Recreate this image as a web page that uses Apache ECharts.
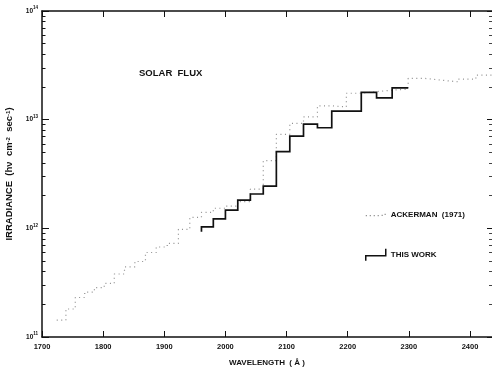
<!DOCTYPE html>
<html>
<head>
<meta charset="utf-8">
<script src="https://cdn.jsdelivr.net/npm/echarts@6/dist/echarts.min.js"></script>
<style>
  html, body { margin: 0; padding: 0; background: #fff; }
  #chart { width: 492px; height: 370px; }
</style>
</head>
<body>
<div id="chart"></div>
<script>
// Ackerman (1971) irradiance, 500 cm-1 intervals (edges in Angstrom)
const ackermanEdges = [
  1724.1, 1739.1, 1754.4, 1769.9, 1785.7, 1801.8, 1818.2, 1834.9, 1851.9,
  1869.2, 1886.8, 1904.8, 1923.1, 1941.7, 1960.8, 1980.2, 2000.0, 2020.2,
  2040.8, 2061.9, 2083.3, 2105.3, 2127.7, 2150.5, 2173.9, 2197.8, 2222.2,
  2247.2, 2272.7, 2298.9, 2325.6, 2352.9, 2381.0, 2409.6, 2439.0
];
const ackermanFlux = [
  1.43e11, 1.81e11, 2.31e11, 2.59e11, 2.85e11, 3.12e11, 3.80e11, 4.41e11,
  4.95e11, 5.99e11, 6.73e11, 7.28e11, 9.79e11, 1.26e12, 1.40e12, 1.53e12,
  1.60e12, 1.76e12, 2.30e12, 4.19e12, 7.33e12, 9.25e12, 1.06e13, 1.34e13,
  1.31e13, 1.75e13, 1.81e13, 1.87e13, 1.91e13, 2.40e13, 2.31e13, 2.23e13,
  2.36e13, 2.57e13
];

// this work
const thisWorkEdges = [
  1960.8, 1980.2, 2000.0, 2020.2, 2040.8, 2061.9, 2083.3, 2105.3, 2127.7,
  2150.5, 2173.9, 2222.2, 2247.2, 2272.7, 2298.9
];
const thisWorkFlux = [
  1.03e12, 1.22e12, 1.47e12, 1.82e12, 2.07e12, 2.45e12, 5.07e12, 7.06e12,
  9.10e12, 8.43e12, 1.20e13, 1.78e13, 1.59e13, 1.96e13
];
const thisWorkStartTick = 9.3e11;

const yDecades = [1e11, 1e12, 1e13, 1e14];
const yMinorTicks = [];
yDecades.slice(0, 3).forEach(d => {
  for (let m = 2; m <= 9; m++) yMinorTicks.push(m * d);
});

// turn interval edges + levels into histogram corner points
function stepPoints(edges, vals) {
  const pts = [];
  vals.forEach((v, i) => {
    pts.push([edges[i], v], [edges[i + 1], v]);
  });
  return pts;
}

const FONT = 'Liberation Sans';
const INK = '#111';
const DOTS = '#8e8e8e';

const chart = echarts.init(document.getElementById('chart'));

const logAxisBase = {
  type: 'log',
  logBase: 10,
  min: 1e11,
  max: 1e14,
  splitLine: { show: false },
  minorTick: { show: false },
  axisLine: { show: false }
};

chart.setOption({
  animation: false,
  backgroundColor: '#fff',
  grid: { left: 42, right: 0, top: 11, bottom: 33, containLabel: false, outerBoundsMode: 'none' },
  title: {
    text: 'SOLAR  FLUX',
    left: 139,
    top: 68,
    padding: 0,
    textStyle: { fontSize: 9.5, fontWeight: 'bold', fontFamily: FONT, color: INK }
  },
  legend: {
    orient: 'vertical',
    left: 365,
    top: 211,
    padding: 0,
    itemWidth: 20,
    itemHeight: 12,
    itemGap: 29,
    selectedMode: false,
    textStyle: { fontSize: 8, fontWeight: 'bold', fontFamily: FONT, color: INK },
    data: [
      {
        name: 'ACKERMAN  (1971)',
        icon: 'path://M0,3h1.2v1.2h-1.2z M4,3h1.2v1.2h-1.2z M8,3h1.2v1.2h-1.2z M12,3h1.2v1.2h-1.2z M16,2.6h1.2v1.2h-1.2z M19,1.6h1.2v1.2h-1.2z',
        itemStyle: { color: DOTS, borderWidth: 0 }
      },
      {
        name: 'THIS WORK',
        icon: 'path://M0,12L0,7L20,7L20,0',
        itemStyle: { color: 'rgba(0,0,0,0)', borderColor: INK, borderWidth: 1.5 }
      }
    ]
  },
  xAxis: [
    {
      type: 'value',
      min: 1700,
      max: 2436,
      interval: 100,
      position: 'bottom',
      name: 'WAVELENGTH  ( Å )',
      nameLocation: 'middle',
      nameGap: 22,
      nameTextStyle: { fontSize: 8, fontWeight: 'bold', fontFamily: FONT, color: INK },
      axisLine: { show: true, lineStyle: { color: INK, width: 1.5 } },
      axisTick: { inside: true, length: 6, lineStyle: { color: INK, width: 1 } },
      axisLabel: {
        margin: 6, fontSize: 7.5, fontWeight: 'bold', fontFamily: FONT, color: INK,
        showMaxLabel: false,
        formatter: v => String(v)
      },
      splitLine: { show: false }
    },
    {
      type: 'value',
      min: 1700,
      max: 2436,
      interval: 100,
      position: 'top',
      axisLine: { show: true, lineStyle: { color: INK, width: 1.5 } },
      axisTick: { inside: true, length: 6, lineStyle: { color: INK, width: 1 } },
      axisLabel: { show: false },
      splitLine: { show: false }
    }
  ],
  yAxis: [
    Object.assign({}, logAxisBase, {
      position: 'left',
      name: 'IRRADIANCE  (hν  cm{s|-2}  sec{s|-1})',
      nameLocation: 'middle',
      nameGap: 27,
      nameTextStyle: {
        fontSize: 9.5, fontWeight: 'bold', fontFamily: FONT, color: INK,
        rich: { s: { fontSize: 6, fontWeight: 'bold', fontFamily: FONT, color: INK, verticalAlign: 'top', lineHeight: 6 } }
      },
      axisLine: { show: true, lineStyle: { color: INK, width: 1.5 } },
      axisTick: { inside: true, length: 7, customValues: yDecades, lineStyle: { color: INK, width: 1 } },
      axisLabel: {
        customValues: yDecades,
        margin: 4,
        formatter: v => '{b|10}{s|' + Math.round(Math.log10(v)) + '}',
        rich: {
          b: { fontSize: 6.5, fontFamily: FONT, fontWeight: 'bold', color: INK, lineHeight: 11 },
          s: { fontSize: 4.5, fontFamily: FONT, fontWeight: 'bold', color: INK, verticalAlign: 'top', lineHeight: 5 }
        }
      }
    }),
    Object.assign({}, logAxisBase, {
      position: 'left',
      axisTick: { inside: true, length: 3.5, customValues: yMinorTicks, lineStyle: { color: INK, width: 1 } },
      axisLabel: { show: false }
    }),
    Object.assign({}, logAxisBase, {
      position: 'right',
      axisTick: { inside: true, length: 5, customValues: yDecades, lineStyle: { color: INK, width: 1 } },
      axisLabel: { show: false }
    }),
    Object.assign({}, logAxisBase, {
      position: 'right',
      axisTick: { inside: true, length: 3, customValues: yMinorTicks, lineStyle: { color: '#444', width: 1 } },
      axisLabel: { show: false }
    })
  ],
  series: [
    {
      name: 'ACKERMAN  (1971)',
      type: 'line',
      xAxisIndex: 0,
      yAxisIndex: 0,
      data: stepPoints(ackermanEdges, ackermanFlux),
      symbol: 'none',
      lineStyle: { color: DOTS, width: 1.2, type: [1, 3.5] },
      itemStyle: { color: DOTS },
      z: 2
    },
    {
      name: 'THIS WORK',
      type: 'line',
      xAxisIndex: 0,
      yAxisIndex: 0,
      data: [[thisWorkEdges[0], thisWorkStartTick]].concat(stepPoints(thisWorkEdges, thisWorkFlux)),
      symbol: 'none',
      lineStyle: { color: INK, width: 1.7, join: 'miter' },
      itemStyle: { color: INK },
      z: 3
    }
  ]
});
</script>
</body>
</html>
